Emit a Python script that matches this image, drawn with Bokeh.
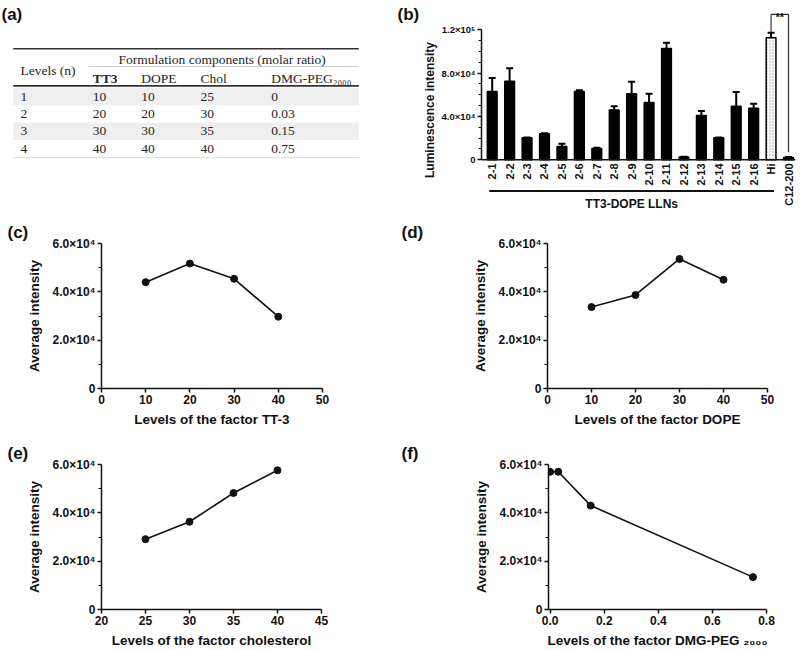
import math
import numpy as np
from bokeh.plotting import figure
from bokeh.models import Range1d, FixedTicker, Span, ColumnDataSource
from bokeh.layouts import column, row
from bokeh.embed import file_html
from bokeh.resources import INLINE
from bokeh.core.properties import value

SANS = "Liberation Sans"
SERIF = "Liberation Serif"
INK = "#111111"

# ---------------- data: (a) design table ----------------
level_labels = ["1", "2", "3", "4"]
table_headers = ["TT3", "DOPE", "Chol", "DMG-PEG₂₀₀₀"]
tt3_levels = [10, 20, 30, 40]
dope_levels = [10, 20, 30, 40]
chol_levels = [25, 30, 35, 40]
peg_levels = [0, 0.03, 0.15, 0.75]

# ---------------- data: (b) luminescence ----------------
bar_labels = ["2-1", "2-2", "2-3", "2-4", "2-5", "2-6", "2-7", "2-8", "2-9",
              "2-10", "2-11", "2-12", "2-13", "2-14", "2-15", "2-16", "Hi", "C12-200"]
bar_values = [63000, 72600, 20300, 24000, 12300, 63000, 10500, 46000, 61000,
              53000, 102800, 2500, 41000, 20300, 49500, 47700, 112600, 2200]
bar_errors = [12600, 12000, 400, 600, 2500, 1300, 600, 3500, 11000,
              8000, 5200, 300, 4000, 400, 13000, 4000, 4600, 300]
b_yticks = [0, 40000, 80000, 120000]
b_ytick_labels = ["0", "4.0×10⁴", "8.0×10⁴", "1.2×10⁵"]

# ---------------- data: (c)-(f) factor level averages ----------------
tt3_avg = [44000, 51700, 45400, 29700]
dope_avg = [33700, 38700, 53600, 45000]
chol_avg = [29100, 36300, 48200, 57600]
peg_avg = [57000, 57000, 43000, 13400]
line_yticks = [0, 20000, 40000, 60000]
line_ytick_labels = ["0", "2.0×10⁴", "4.0×10⁴", "6.0×10⁴"]
c_xticks = [0, 10, 20, 30, 40, 50]
e_xticks = [20, 25, 30, 35, 40, 45]
f_xticks = [0, 0.2, 0.4, 0.6, 0.8]
f_xtick_labels = ["0.0", "0.2", "0.4", "0.6", "0.8"]


def fmt(v):
    return f"{v:g}"


def style_axis(ax, tick_size, label_size):
    ax.axis_line_color = INK
    ax.axis_line_width = 1.5
    ax.major_tick_line_color = INK
    ax.major_tick_line_width = 1.5
    ax.major_tick_in = 0
    ax.major_tick_out = 4
    ax.minor_tick_line_color = INK
    ax.minor_tick_line_width = 1.2
    ax.minor_tick_in = 0
    ax.minor_tick_out = 3
    ax.major_label_text_font = SANS
    ax.major_label_text_font_style = "bold"
    ax.major_label_text_font_size = tick_size
    ax.major_label_text_color = INK
    ax.axis_label_text_font = SANS
    ax.axis_label_text_font_style = "bold"
    ax.axis_label_text_font_size = label_size
    ax.axis_label_text_color = INK


ROW1_H = 219

# ================= (a) table (plus the (b) tag) =================
A_W = 420
pa = figure(width=A_W, height=ROW1_H, x_range=Range1d(0, A_W), y_range=Range1d(ROW1_H, 0),
            x_axis_type=None, y_axis_type=None, toolbar_location=None, title=None,
            output_backend="svg", min_border=0, outline_line_color=None)
pa.grid.visible = False
TL, TR = 12.7, 358.3
row_y = [96.0 + 17.4 * i for i in range(len(level_labels))]
shade_rows = [row_y[i] for i in range(0, len(row_y), 2)]
pa.quad(left=TL, right=TR, top=[y - 8.7 for y in shade_rows],
        bottom=[y + 8.7 for y in shade_rows], fill_color="#efefef", line_color=None)
pa.segment(x0=[TL, 88, TL], y0=[48.3, 66, 85.3], x1=[TR, TR, TR], y1=[48.3, 66, 85.3],
           line_color=["#333333", "#cfcfcf", "#333333"], line_width=[1.6, 1, 1.8])
pa.segment(x0=[TL], y0=[157], x1=[TR], y1=[157], line_color="#dddddd", line_width=1)
tcol = "#262626"
pa.text(x=[221.7], y=[59], text=["Formulation components (molar ratio)"],
        text_font=value(SERIF), text_font_size="13.5px", text_align="center",
        text_baseline="middle", text_color=tcol)
pa.text(x=[20], y=[69.5], text=["Levels (n)"], text_font=value(SERIF),
        text_font_size="13.5px", text_align="left", text_baseline="middle", text_color=tcol)
col_x = [92.3, 140.7, 200, 270.7]
pa.text(x=col_x[:1], y=[77.5], text=table_headers[:1], text_font=value(SERIF),
        text_font_style="bold", text_font_size="13.5px", text_align="left",
        text_baseline="middle", text_color=tcol)
pa.text(x=col_x[1:], y=[77.5] * 3, text=table_headers[1:], text_font=value(SERIF),
        text_font_size="13.5px", text_align="left", text_baseline="middle", text_color=tcol)
for cx, vals in zip([20] + col_x, [level_labels, tt3_levels, dope_levels, chol_levels, peg_levels]):
    pa.text(x=[cx] * len(vals), y=row_y,
            text=[v if isinstance(v, str) else fmt(v) for v in vals],
            text_font=value(SERIF), text_font_size="13.5px", text_align="left",
            text_baseline="middle", text_color=tcol)
pa.text(x=[1, 397], y=[13.5, 13.5], text=["(a)", "(b)"], text_font=value(SANS),
        text_font_style="bold", text_font_size="17px", text_align="left",
        text_baseline="middle", text_color=INK)

# ================= (b) bar chart =================
B_W, B_L, B_R = 800 - A_W, 52, 5
PX_PER_CAT = 17.93
PX_PER_UNIT_Y = 130.0 / 120000
ZERO_Y = 159.3
b_x0 = -(483 - (A_W + B_L)) / PX_PER_CAT
b_x1 = b_x0 + (B_W - B_L - B_R) / PX_PER_CAT
b_y0 = -(ROW1_H - ZERO_Y) / PX_PER_UNIT_Y
b_y1 = ZERO_Y / PX_PER_UNIT_Y
pb = figure(width=B_W, height=ROW1_H, x_range=Range1d(b_x0, b_x1), y_range=Range1d(b_y0, b_y1),
            toolbar_location=None, output_backend="svg", title=None, x_axis_location=None,
            min_border_left=B_L, min_border_right=B_R, min_border_top=0, min_border_bottom=0,
            outline_line_color=None)
pb.grid.visible = False
n = len(bar_labels)
xb = np.arange(n)
vals = np.array(bar_values, dtype=float)
errs = np.array(bar_errors, dtype=float)
hi = bar_labels.index("Hi")
c12 = bar_labels.index("C12-200")
fills = ["black" if lab != "Hi" else "white" for lab in bar_labels]
hatches = ["blank" if lab != "Hi" else "dot" for lab in bar_labels]
src = ColumnDataSource(dict(x=xb, top=vals, fill=fills, hatch=hatches))
pb.vbar(x="x", top="top", bottom=0, width=0.56, fill_color="fill", line_color="black",
        line_width=1.5, hatch_pattern="hatch", hatch_color="#a0a0a0", hatch_scale=3,
        hatch_weight=0.8, source=src)
pb.segment(x0=xb, y0=vals, x1=xb, y1=vals + errs, line_color="black", line_width=2)
pb.segment(x0=xb - 0.2, y0=vals + errs, x1=xb + 0.2, y1=vals + errs, line_color="black",
           line_width=2)
# x axis baseline
pb.add_layout(Span(location=0, dimension="width", line_color=INK, line_width=1.5))
# category labels below the baseline
lab_off = -3.7 / PX_PER_UNIT_Y
pb.text(x=xb, y=[lab_off] * n, text=bar_labels, angle=math.pi / 2, text_align="right",
        text_baseline="middle", text_font=value(SANS), text_font_style="bold",
        text_font_size="11px", text_color=INK)
# group underline + caption
grp_y = -31.2 / PX_PER_UNIT_Y
pb.segment(x0=[xb[0] - 0.17], y0=[grp_y], x1=[xb[hi] + 0.17], y1=[grp_y],
           line_color=INK, line_width=2)
pb.text(x=[(xb[0] + xb[hi]) / 2], y=[-43.7 / PX_PER_UNIT_Y], text=["TT3-DOPE LLNs"],
        text_align="center", text_baseline="middle", text_font=value(SANS),
        text_font_style="bold", text_font_size="12px", text_color=INK)
# significance bracket
sig_y = vals[hi] + errs[hi] + 17000
pb.line(x=[hi, hi, c12, c12], y=[vals[hi] + errs[hi] + 800, sig_y, sig_y, vals[c12] + 4800],
        line_color="#333333", line_width=1.2)
pb.text(x=[(hi + c12) / 2], y=[sig_y - 2300], text=["**"], text_font=value(SANS),
        text_font_style="bold", text_font_size="11px", text_align="center",
        text_baseline="alphabetic", text_color=INK)

yax = pb.yaxis[0]
style_axis(yax, "9.5px", "12px")
yax.ticker = FixedTicker(ticks=b_yticks, minor_ticks=list(range(0, 120001, 10000)))
yax.major_label_overrides = dict(zip(b_yticks, b_ytick_labels))
yax.bounds = (0, 120000)
yax.major_label_standoff = 2
yax.axis_label = "Luminescence intensity"
yax.axis_label_standoff = 1


# ================= (c)-(f) line charts =================
def line_panel(xs, ys, xr, xticks, xtick_labels, xlabel, tag, width, height, bl, br, bt, bb,
               tag_dx):
    p = figure(width=width, height=height, x_range=Range1d(*xr), y_range=Range1d(0, 60000),
               toolbar_location=None, output_backend="svg", min_border_left=bl,
               min_border_right=br, min_border_top=bt, min_border_bottom=bb,
               outline_line_color=None, title=tag)
    p.title.text_font = SANS
    p.title.text_font_style = "bold"
    p.title.text_font_size = "17px"
    p.title.text_color = INK
    p.title.align = "left"
    p.title.offset = tag_dx
    p.title.standoff = 3
    p.grid.visible = False
    p.line(xs, ys, line_color=INK, line_width=1.6)
    p.scatter(xs, ys, size=7, fill_color=INK, line_color=INK)
    ya = p.yaxis[0]
    style_axis(ya, "12px", "13.5px")
    minors = [(a + b) / 2 for a, b in zip(line_yticks[:-1], line_yticks[1:])]
    ya.ticker = FixedTicker(ticks=line_yticks, minor_ticks=minors)
    ya.major_label_overrides = dict(zip(line_yticks, line_ytick_labels))
    ya.major_label_standoff = 2
    ya.axis_label = "Average intensity"
    ya.axis_label_standoff = 8
    xa = p.xaxis[0]
    style_axis(xa, "12px", "13.5px")
    xa.ticker = FixedTicker(ticks=xticks)
    xa.major_label_overrides = dict(zip(xticks, xtick_labels))
    xa.major_label_standoff = 2
    xa.axis_label = xlabel
    xa.axis_label_standoff = 5
    return p


pc = line_panel(tt3_levels, tt3_avg, (0, 50), c_xticks, [fmt(t) for t in c_xticks],
                "Levels of the factor TT-3", "(c)", 400, 211, 101, 78, 23, 42, -94)
pd = line_panel(dope_levels, dope_avg, (0, 50), c_xticks, [fmt(t) for t in c_xticks],
                "Levels of the factor DOPE", "(d)", 400, 211, 147, 33, 23, 42, -146)
pe = line_panel(chol_levels, chol_avg, (20, 45), e_xticks, [fmt(t) for t in e_xticks],
                "Levels of the factor cholesterol", "(e)", 400, 220, 101, 79, 34, 41, -94)
pf = line_panel(peg_levels, peg_avg, (-0.006, 0.8), f_xticks, f_xtick_labels,
                "Levels of the factor DMG-PEG ₂₀₀₀", "(f)", 400, 220, 148, 34, 34, 41, -147)

layout = column(row(pa, pb), row(pc, pd), row(pe, pf))
open("out.html", "w").write(file_html(layout, INLINE, title="TT3-DOPE LLN formulation"))
